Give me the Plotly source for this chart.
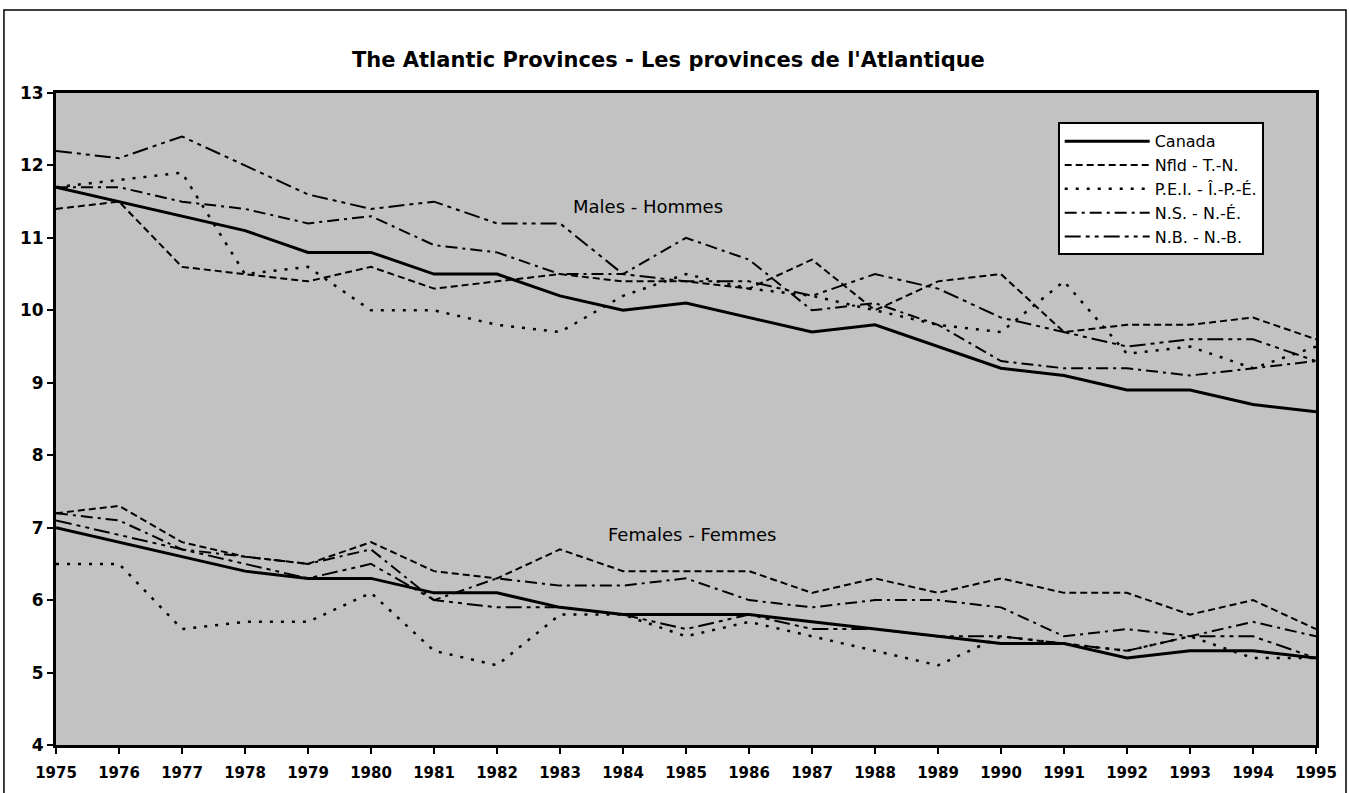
import plotly.graph_objects as go

years = list(range(1975, 1996))

# Males - Hommes
canada_m = [11.7, 11.5, 11.3, 11.1, 10.8, 10.8, 10.5, 10.5, 10.2, 10.0, 10.1, 9.9, 9.7, 9.8, 9.5, 9.2, 9.1, 8.9, 8.9, 8.7, 8.6]
nfld_m = [11.4, 11.5, 10.6, 10.5, 10.4, 10.6, 10.3, 10.4, 10.5, 10.4, 10.4, 10.3, 10.7, 10.0, 10.4, 10.5, 9.7, 9.8, 9.8, 9.9, 9.6]
pei_m = [11.7, 11.8, 11.9, 10.5, 10.6, 10.0, 10.0, 9.8, 9.7, 10.2, 10.5, 10.3, 10.2, 10.0, 9.8, 9.7, 10.4, 9.4, 9.5, 9.2, 9.5]
ns_m = [11.7, 11.7, 11.5, 11.4, 11.2, 11.3, 10.9, 10.8, 10.5, 10.5, 11.0, 10.7, 10.0, 10.1, 9.8, 9.3, 9.2, 9.2, 9.1, 9.2, 9.3]
nb_m = [12.2, 12.1, 12.4, 12.0, 11.6, 11.4, 11.5, 11.2, 11.2, 10.5, 10.4, 10.4, 10.2, 10.5, 10.3, 9.9, 9.7, 9.5, 9.6, 9.6, 9.3]

# Females - Femmes
canada_f = [7.0, 6.8, 6.6, 6.4, 6.3, 6.3, 6.1, 6.1, 5.9, 5.8, 5.8, 5.8, 5.7, 5.6, 5.5, 5.4, 5.4, 5.2, 5.3, 5.3, 5.2]
nfld_f = [7.2, 7.3, 6.8, 6.6, 6.5, 6.8, 6.4, 6.3, 6.7, 6.4, 6.4, 6.4, 6.1, 6.3, 6.1, 6.3, 6.1, 6.1, 5.8, 6.0, 5.6]
pei_f = [6.5, 6.5, 5.6, 5.7, 5.7, 6.1, 5.3, 5.1, 5.8, 5.8, 5.5, 5.7, 5.5, 5.3, 5.1, 5.5, 5.4, 5.3, 5.5, 5.2, 5.2]
ns_f = [7.2, 7.1, 6.7, 6.6, 6.5, 6.7, 6.0, 6.3, 6.2, 6.2, 6.3, 6.0, 5.9, 6.0, 6.0, 5.9, 5.5, 5.6, 5.5, 5.7, 5.5]
nb_f = [7.1, 6.9, 6.7, 6.5, 6.3, 6.5, 6.0, 5.9, 5.9, 5.8, 5.6, 5.8, 5.6, 5.6, 5.5, 5.5, 5.4, 5.3, 5.5, 5.5, 5.2]

series_names = ["Canada", "Nfld - T.-N.", "P.E.I. - Î.-P.-É.", "N.S. - N.-É.", "N.B. - N.-B."]
male_data = [canada_m, nfld_m, pei_m, ns_m, nb_m]
female_data = [canada_f, nfld_f, pei_f, ns_f, nb_f]
dashes = ["solid", "7px,4px", "3px,8px", "12px,5px,3px,5px", "16px,5px,4px,5px,4px,5px"]
widths = [3, 2, 2.5, 2, 2]

title_text = "The Atlantic Provinces - Les provinces de l'Atlantique"
males_label = "Males - Hommes"
females_label = "Females - Femmes"

fig = go.Figure()
for name, ym, yf, d, w in zip(series_names, male_data, female_data, dashes, widths):
    xs = years + [None] + years
    ys = ym + [None] + yf
    fig.add_trace(go.Scatter(
        x=xs, y=ys, mode="lines", name=name,
        line=dict(color="black", width=w, dash=d),
        connectgaps=False,
    ))

font_family = "DejaVu Sans, Verdana, sans-serif"

fig.update_layout(
    width=1349, height=793,
    margin=dict(l=56, r=33, t=93, b=48),
    paper_bgcolor="white",
    plot_bgcolor="#c2c2c2",
    font=dict(family=font_family, color="black"),
    showlegend=True,
    legend=dict(
        x=0.795, y=0.955, xanchor="left", yanchor="top",
        bgcolor="white", bordercolor="black", borderwidth=2,
        font=dict(size=16, family=font_family, color="black"),
        itemwidth=85, tracegroupgap=0,
    ),
    annotations=[
        dict(text="<b>" + title_text + "</b>", xref="paper", yref="paper",
             x=0.4865, y=(745 - 60) / 652, yanchor="middle", showarrow=False,
             font=dict(size=21, family=font_family)),
        dict(text=males_label, x=1984.4, y=11.43, xref="x", yref="y",
             showarrow=False, font=dict(size=18, family=font_family)),
        dict(text=females_label, x=1985.1, y=6.9, xref="x", yref="y",
             showarrow=False, font=dict(size=18, family=font_family)),
    ],
    shapes=[
        dict(type="rect", xref="paper", yref="paper",
             x0=-0.0413, x1=1.0238, y0=-0.12, y1=1.1273,
             line=dict(color="black", width=1.5), layer="below"),
    ],
)

fig.update_xaxes(
    range=[1975, 1995], tickmode="array", tickvals=years,
    ticktext=["<b>" + str(y) + "</b>" for y in years],
    showgrid=False, zeroline=False,
    showline=True, linecolor="black", linewidth=3, mirror=True,
    ticks="outside", ticklen=6, tickwidth=2, tickcolor="black",
    tickfont=dict(size=15, family=font_family),
    ticklabelstandoff=6,
)
fig.update_yaxes(
    range=[4, 13], tickmode="array", tickvals=list(range(4, 14)),
    ticktext=["<b>" + str(v) + "</b>" for v in range(4, 14)],
    showgrid=False, zeroline=False,
    showline=True, linecolor="black", linewidth=3, mirror=True,
    ticks="outside", ticklen=6, tickwidth=2, tickcolor="black",
    tickfont=dict(size=17, family=font_family),
)

fig.write_html("out.html", config={"displayModeBar": False},
               post_script="document.body.style.margin='0';document.body.style.overflow='hidden';")
